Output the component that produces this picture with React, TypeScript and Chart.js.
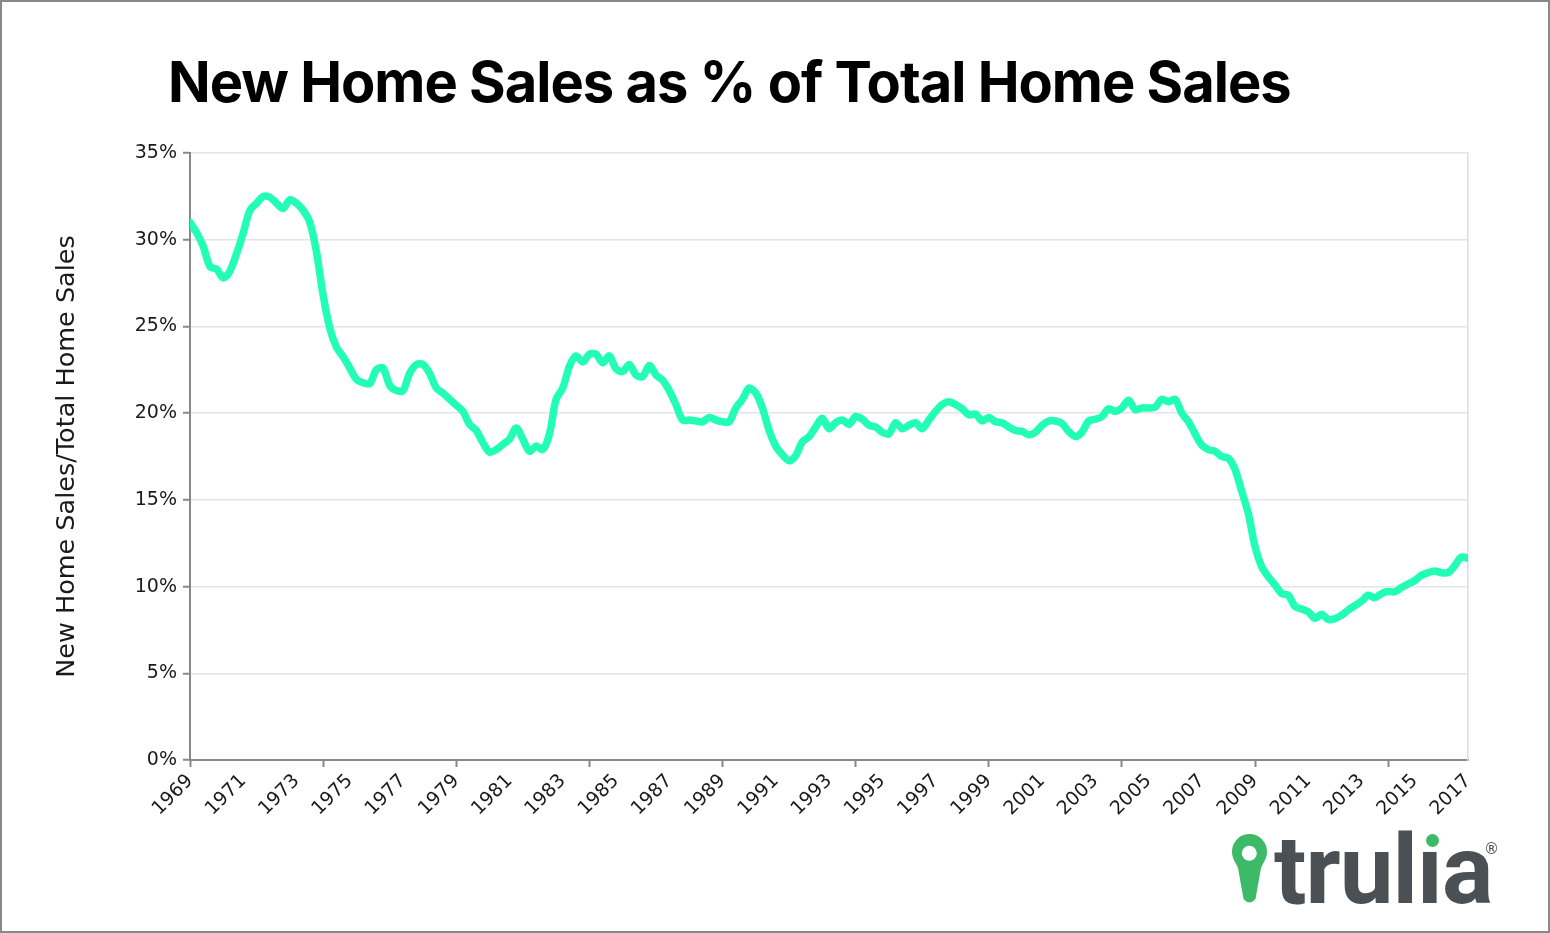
import React, { useEffect, useRef } from 'react';
import { Chart, registerables } from 'chart.js';

Chart.register(...registerables);

const chartTitle = 'New Home Sales as % of Total Home Sales';
const yAxisTitle = 'New Home Sales/Total Home Sales';
const startYear = 1969;
const endYear = 2017;
const quartersPerYear = 4;

// Quarterly share of new home sales in total home sales (%)
const share1969 = [31.0, 30.4, 29.6, 28.45];
const share1970s = [
  28.3, 27.8, 28.2, 29.2,
  30.4, 31.7, 32.1, 32.5,
  32.45, 32.1, 31.8, 32.3,
  32.1, 31.7, 31.0, 29.3,
  26.8, 24.9, 23.8, 23.25,
  22.6, 21.95, 21.75, 21.7,
  22.5, 22.6, 21.6, 21.3,
  21.3, 22.3, 22.8, 22.8,
  22.3, 21.45, 21.15, 20.8,
  20.45, 20.1, 19.35, 19.0,
];
const share1980s = [
  18.3, 17.75, 17.9, 18.2,
  18.5, 19.15, 18.5, 17.8,
  18.1, 17.9, 18.8, 20.8,
  21.45, 22.7, 23.3, 22.95,
  23.4, 23.4, 22.9, 23.3,
  22.55, 22.4, 22.8, 22.2,
  22.1, 22.75, 22.2, 21.9,
  21.3, 20.5, 19.6, 19.6,
  19.55, 19.5, 19.75, 19.6,
  19.5, 19.5, 20.3, 20.8,
];
const share1990s = [
  21.45, 21.15, 20.3, 19.0,
  18.1, 17.6, 17.25, 17.55,
  18.35, 18.64, 19.2, 19.7,
  19.1, 19.45, 19.6, 19.35,
  19.8, 19.65, 19.3, 19.2,
  18.9, 18.8, 19.45, 19.1,
  19.3, 19.45, 19.1, 19.6,
  20.1, 20.5, 20.65, 20.5,
  20.25, 19.9, 19.95, 19.55,
  19.75, 19.5, 19.45, 19.2,
];
const share2000s = [
  19.0, 18.95, 18.75, 18.9,
  19.3, 19.55, 19.55, 19.4,
  18.95, 18.65, 18.9, 19.55,
  19.65, 19.8, 20.25, 20.1,
  20.3, 20.75, 20.2, 20.3,
  20.3, 20.35, 20.8, 20.66,
  20.8, 20.0, 19.5, 18.8,
  18.16, 17.9, 17.8, 17.5,
  17.4, 16.75, 15.5, 14.2,
  12.3, 11.15, 10.57, 10.1,
];
const share2010s = [
  9.6, 9.5, 8.85, 8.7,
  8.55, 8.17, 8.4, 8.1,
  8.15, 8.35, 8.65, 8.9,
  9.15, 9.5, 9.35, 9.6,
  9.72, 9.7, 9.95, 10.15,
  10.35, 10.65, 10.8, 10.9,
  10.8, 10.8, 11.2, 11.7,
  11.63,
];

const labelYears = [
  1969, 1971, 1973, 1975, 1977, 1979, 1981, 1983, 1985, 1987, 1989, 1991, 1993,
  1995, 1997, 1999, 2001, 2003, 2005, 2007, 2009, 2011, 2013, 2015, 2017,
];
const tickMarkYears = [1969, 1974, 1979, 1984, 1989, 1994, 1999, 2004, 2009, 2014];

const FONT = "'DejaVu Sans', sans-serif";
const LINE_COLOR = '#22FFB4';
const AXIS_COLOR = '#888888';

export default function App() {
  const canvasRef = useRef<HTMLCanvasElement | null>(null);

  useEffect(() => {
    if (!canvasRef.current) return;
    const values = [
      ...share1969, ...share1970s, ...share1980s, ...share1990s, ...share2000s, ...share2010s,
    ];
    const points = values.map((v, i) => ({ x: startYear + i / quartersPerYear, y: v }));
    const allYears: number[] = [];
    for (let y = startYear; y <= endYear; y++) allYears.push(y);

    const chart = new Chart(canvasRef.current, {
      type: 'line',
      data: {
        datasets: [
          {
            data: points,
            borderColor: LINE_COLOR,
            borderWidth: 7.5,
            pointRadius: 0,
            tension: 0.3,
            fill: false,
            borderCapStyle: 'round',
            borderJoinStyle: 'round',
          },
        ],
      },
      options: {
        animation: false,
        responsive: false,
        events: [],
        layout: { padding: { top: 153, right: 82, left: 0, bottom: 0 } },
        plugins: {
          legend: { display: false },
          tooltip: { enabled: false },
          title: { display: false },
        },
        scales: {
          x: {
            type: 'linear',
            min: startYear,
            max: endYear,
            afterBuildTicks: (s: any) => {
              s.ticks = allYears.map((v) => ({ value: v }));
            },
            afterFit: (s: any) => {
              s.height = 173;
            },
            ticks: {
              autoSkip: false,
              maxRotation: 45,
              minRotation: 45,
              padding: 3,
              color: '#1a1a1a',
              font: { family: FONT, size: 19 },
              callback: (v: any) => (labelYears.includes(Number(v)) ? String(v) : ''),
            },
            grid: {
              drawOnChartArea: false,
              drawTicks: true,
              tickLength: 7,
              tickWidth: 2,
              tickColor: (ctx: any) =>
                ctx.tick && tickMarkYears.includes(ctx.tick.value) ? AXIS_COLOR : 'rgba(0,0,0,0)',
            },
            border: { color: AXIS_COLOR, width: 2 },
          },
          y: {
            min: 0,
            max: 35,
            afterFit: (s: any) => {
              s.width = 190;
            },
            ticks: {
              stepSize: 5,
              padding: 6,
              color: '#1a1a1a',
              font: { family: FONT, size: 19 },
              callback: (v: any) => `${v}%`,
            },
            grid: {
              color: (ctx: any) => (ctx.tick && ctx.tick.value === 0 ? 'rgba(0,0,0,0)' : '#e4e4e4'),
              lineWidth: 1.5,
              tickLength: 7,
              tickWidth: 2,
              tickColor: AXIS_COLOR,
            },
            border: { color: AXIS_COLOR, width: 2 },
            title: {
              display: true,
              text: yAxisTitle,
              color: '#1a1a1a',
              font: { family: FONT, size: 25.5 },
              padding: { top: 52, bottom: 0 },
            },
          },
          y2: {
            position: 'right',
            min: 0,
            max: 35,
            afterFit: (s: any) => {
              s.width = 0;
            },
            ticks: { display: false },
            grid: { display: false, drawTicks: false },
            border: { color: '#dddddd', width: 1.5 },
          },
        },
      } as any,
    });
    return () => chart.destroy();
  }, []);

  return (
    <div style={{ position: 'fixed', left: 0, top: 0, width: 1550, height: 933, background: '#fff' }}>
      <canvas
        ref={canvasRef}
        width={1550}
        height={933}
        style={{ position: 'absolute', left: 0, top: 0, width: 1550, height: 933 }}
      />
      <div
        style={{
          position: 'absolute',
          left: 168,
          top: 54,
          fontFamily: "Inter, 'Noto Sans', sans-serif",
          fontWeight: 700,
          fontSize: 56,
          lineHeight: 1,
          color: '#000',
          whiteSpace: 'nowrap',
          letterSpacing: -1,
        }}
      >
        {chartTitle}
      </div>
      <svg
        width={40}
        height={76}
        viewBox="0 0 40 76"
        style={{ position: 'absolute', left: 1230, top: 832 }}
      >
        <path
          d="M 2 19.5 A 17.5 17.5 0 0 1 37 19.5 C 37 27 33 31 31 36 L 25.5 67 Q 19.5 74 13.5 67 L 8 36 C 6 31 2 27 2 19.5 Z"
          fill="#3DBA67"
        />
        <circle cx={19.3} cy={21.3} r={7.5} fill="#ffffff" />
      </svg>
      <div
        style={{
          position: 'absolute',
          left: 1274,
          top: 822,
          fontFamily: "Roboto, 'Open Sans', sans-serif",
          fontWeight: 700,
          fontSize: 96,
          lineHeight: 1,
          color: '#4A5054',
          letterSpacing: -1,
          whiteSpace: 'nowrap',
        }}
      >
        {'trul\u0131a'}
      </div>
      <div
        style={{
          position: 'absolute',
          left: 1425.5,
          top: 833.5,
          width: 13,
          height: 13,
          borderRadius: '50%',
          background: '#3DBA67',
        }}
      />
      <div
        style={{
          position: 'absolute',
          left: 1484,
          top: 842,
          fontFamily: FONT,
          fontSize: 15,
          lineHeight: 1,
          color: '#4A5054',
        }}
      >
        {'\u00AE'}
      </div>
      <div
        style={{
          position: 'absolute',
          left: 0,
          top: 0,
          width: 1550,
          height: 933,
          boxSizing: 'border-box',
          border: '2px solid #898989',
          pointerEvents: 'none',
        }}
      />
    </div>
  );
}
